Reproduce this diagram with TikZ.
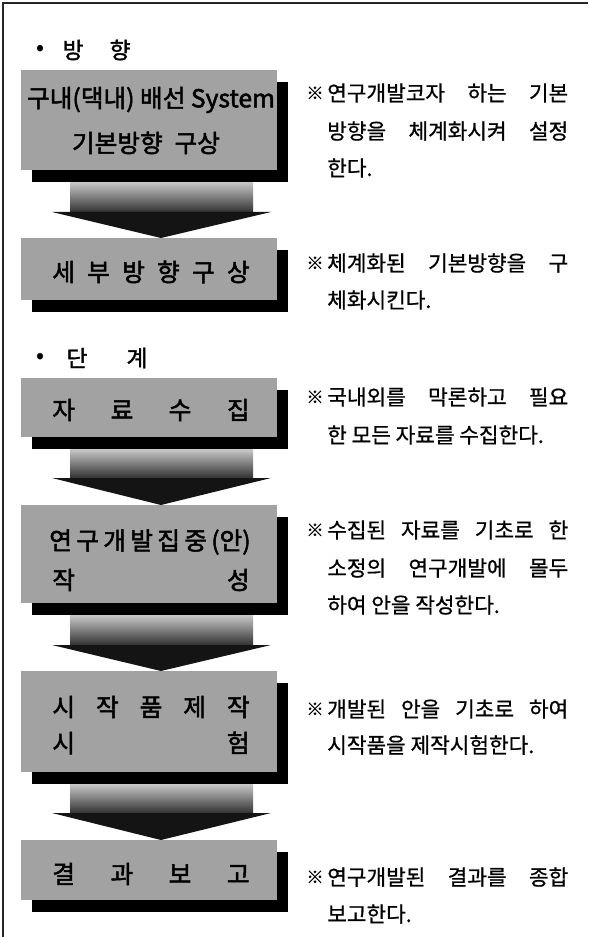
\documentclass[tikz,border=0pt]{standalone}
\usepackage{fontspec}
\setmainfont{Noto Sans CJK KR}
\newfontfamily\krbox[FakeBold=2]{Noto Sans CJK KR}
\newfontfamily\krhead[FakeBold=1.5]{Noto Sans CJK KR}
\newfontfamily\krnote[FakeBold=0.8]{Noto Sans CJK KR}
\usetikzlibrary{calc}
\definecolor{boxgray}{RGB}{162,162,162}
\definecolor{arrowtop}{RGB}{200,200,200}
\definecolor{arrowbot}{RGB}{50,50,50}
\definecolor{headfill}{RGB}{20,20,20}
\begin{document}
\begin{tikzpicture}[x=0.75pt,y=-0.75pt,
  shadowbox/.style={fill=black, inner sep=0pt, minimum width=192pt},
  graybox/.style={fill=boxgray, inner sep=0pt, minimum width=192pt},
  boxtxt/.style={inner sep=0pt, text=black, font=\krbox\fontsize{18.5pt}{18.5pt}\selectfont},
  notetxt/.style={anchor=west, inner sep=0pt, font=\krnote\fontsize{16pt}{16pt}\selectfont},
  refsym/.style={inner sep=0pt, font=\krnote\fontsize{13pt}{13pt}\selectfont},
  headtxt/.style={inner sep=0pt, font=\krhead\fontsize{17pt}{17pt}\selectfont},
  arrowbody/.style={top color=arrowtop, bottom color=arrowbot, draw=none},
  blockhead/.style={fill=headfill, draw=none}
]
\useasboundingbox (0,0) rectangle (588,937);
\fill[white] (0,0) rectangle (588,937);
\draw[line width=1.1pt, black!85] (3,937) -- (3,3) -- (588,3);

% headings
\node[headtxt] (h1a) at (40,50) {•};
\node[headtxt] (h1b) at (73,50) {방};
\node[headtxt] (h1c) at (120,50) {향};
\node[headtxt] (h2a) at (40,358) {•};
\node[headtxt] (h2b) at (77,358) {단};
\node[headtxt] (h2c) at (137,358) {계};

% arrows (drawn first, under the boxes)
\shade[arrowbody] (70,182) rectangle (253,212);
\fill[blockhead] (52,212) -- (271,212) -- (161,238) -- cycle;
\shade[arrowbody] (70,449) rectangle (253,478);
\fill[blockhead] (52,478) -- (271,478) -- (161,505) -- cycle;
\shade[arrowbody] (70,615) rectangle (253,645);
\fill[blockhead] (52,645) -- (271,645) -- (161,671) -- cycle;
\shade[arrowbody] (70,784) rectangle (253,813);
\fill[blockhead] (52,813) -- (271,813) -- (161,840) -- cycle;

% box 1
\node[shadowbox, minimum height=75pt] (s1) at (160,132) {};
\node[graybox, minimum height=75pt] (b1) at (149,120) {};
\node[boxtxt] (t1a) at (151,100) {\makebox[186pt]{구내(댁내) 배선 System}};
\node[boxtxt] (t1b) at (146,143) {\makebox[111pt]{기본방향\hfill 구상}};
% box 2
\node[shadowbox, minimum height=46.5pt] (s2) at (160,281) {};
\node[graybox, minimum height=46.5pt] (b2) at (149,269) {};
\node[boxtxt] (t2) at (151,272) {\makebox[148pt]{세\hfill 부\hfill 방\hfill 향\hfill 구\hfill 상}};
% box 3
\node[shadowbox, minimum height=44.25pt] (s3) at (160,419.5) {};
\node[graybox, minimum height=44.25pt] (b3) at (149,407.5) {};
\node[boxtxt] (t3) at (151,410) {\makebox[148pt]{자\hfill 료\hfill 수\hfill 집}};
% box 4
\node[shadowbox, minimum height=73.5pt] (s4) at (160,566) {};
\node[graybox, minimum height=73.5pt] (b4) at (149,554) {};
\node[boxtxt] (t4a) at (150,542) {\makebox[151pt]{연\hfill 구\hfill 개\hfill 발\hfill 집\hfill 중\hfill(안)}};
\node[boxtxt] (t4b) at (151,580) {\makebox[148pt]{작\hfill 성}};
% box 5
\node[shadowbox, minimum height=75.75pt] (s5) at (160,733.5) {};
\node[graybox, minimum height=75.75pt] (b5) at (149,721.5) {};
\node[boxtxt] (t5a) at (151,707) {\makebox[148pt]{시\hfill 작\hfill 품\hfill 제\hfill 작}};
\node[boxtxt] (t5b) at (151,743) {\makebox[148pt]{시\hfill 험}};
% box 6
\node[shadowbox, minimum height=45pt] (s6) at (160,882) {};
\node[graybox, minimum height=45pt] (b6) at (149,870) {};
\node[boxtxt] (t6) at (151,874) {\makebox[148pt]{결\hfill 과\hfill 보\hfill 고}};

% notes
\node[refsym] (r1) at (315,93) {※};
\node[notetxt] (n1a) at (327,93) {\makebox[180.75pt][s]{연구개발코자 하는 기본}};
\node[notetxt] (n1b) at (327,131) {\makebox[180.75pt][s]{방향을 체계화시켜 설정}};
\node[notetxt] (n1c) at (327,168) {한다.};

\node[refsym] (r2) at (315,263) {※};
\node[notetxt] (n2a) at (327,263) {\makebox[180.75pt][s]{체계화된 기본방향을 구}};
\node[notetxt] (n2b) at (327,300) {체화시킨다.};

\node[refsym] (r3) at (315,397) {※};
\node[notetxt] (n3a) at (327,397) {\makebox[180.75pt][s]{국내외를 막론하고 필요}};
\node[notetxt] (n3b) at (327,435) {한 모든 자료를 수집한다.};

\node[refsym] (r4) at (315,530) {※};
\node[notetxt] (n4a) at (327,530) {\makebox[180.75pt][s]{수집된 자료를 기초로 한}};
\node[notetxt] (n4b) at (327,568) {\makebox[180.75pt][s]{소정의 연구개발에 몰두}};
\node[notetxt] (n4c) at (327,605) {하여 안을 작성한다.};

\node[refsym] (r5) at (315,709) {※};
\node[notetxt] (n5a) at (327,709) {\makebox[180.75pt][s]{개발된 안을 기초로 하여}};
\node[notetxt] (n5b) at (327,745) {시작품을 제작시험한다.};

\node[refsym] (r6) at (315,877) {※};
\node[notetxt] (n6a) at (327,877) {\makebox[180.75pt][s]{연구개발된 결과를 종합}};
\node[notetxt] (n6b) at (327,914) {보고한다.};
\end{tikzpicture}
\end{document}
